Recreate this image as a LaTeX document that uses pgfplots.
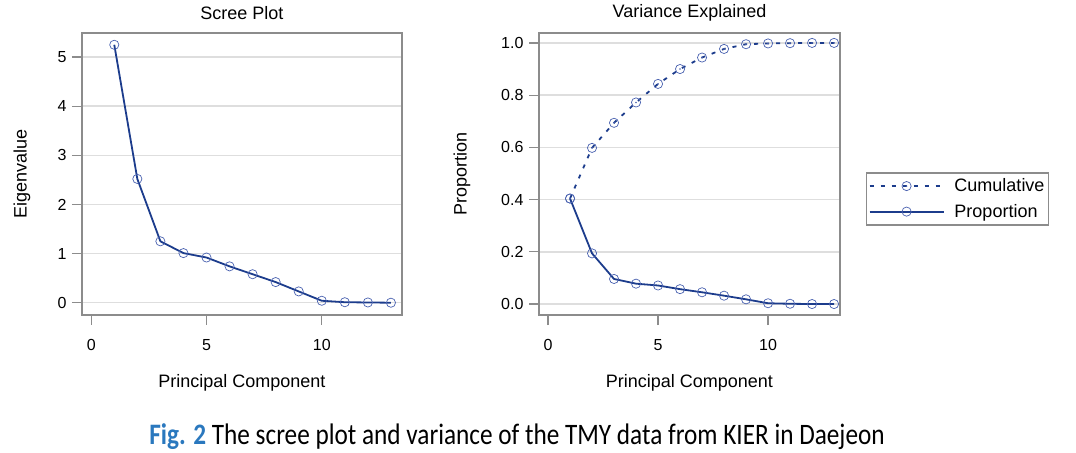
\documentclass[border=0pt]{standalone}
\usepackage{pgfplots}
\pgfplotsset{compat=1.18}
\usepackage{fontspec}
\setmainfont{Liberation Sans}
\newfontfamily\capfont[FakeStretch=0.85]{Carlito}
\definecolor{navy}{HTML}{1C3C8C}
\definecolor{mk}{HTML}{4A62B0}
\definecolor{framec}{HTML}{8C8C8C}
\definecolor{gridc}{HTML}{DEDEDE}
\definecolor{figblue}{HTML}{2A78BE}
\pgfdeclareplotmark{codot}{%
  \pgfpathcircle{\pgfpointorigin}{\pgfplotmarksize}\pgfusepathqstroke
  \pgfpathcircle{\pgfpointorigin}{0.9bp}\pgfusepathqfill}
\pgfplotsset{
  common/.style={
    scale only axis, anchor=south west,
    axis line style={framec, line width=1.6bp},
    tick align=outside, xtick pos=left, ytick pos=left,
    major tick length=10bp,
    every tick/.style={framec, line width=1.2bp},
    ymajorgrids, grid style={gridc, line width=1.4bp},
    tick label style={font=\fontsize{16bp}{19bp}\selectfont, text=black},
    xticklabel style={yshift=-11bp},
    yticklabel style={xshift=-2bp},
    /pgf/number format/assume math mode=true,
    label style={font=\fontsize{18bp}{21bp}\selectfont},
    title style={font=\fontsize{18bp}{21bp}\selectfont, at={(axis description cs:0.5,1.051)}, anchor=center, yshift=0pt},
    xlabel style={at={(axis description cs:0.5,-0.241)}, anchor=center},
    xlabel={Principal Component},
    xtick={0,5,10},
    legend image code/.code={\draw[mark repeat=2,mark phase=2,#1, line width=1.8bp] plot coordinates {(0bp,0bp)(37bp,0bp)(74bp,0bp)};},
  },
  mline/.style={navy, line width=1.8bp, mark=o, mark size=4.6bp,
    mark options={mk, line width=0.7bp, solid}},
}
\pgfplotstableread{
pc eig prop cum
1 5.25 0.404 0.404
2 2.52 0.194 0.598
3 1.25 0.096 0.694
4 1.01 0.078 0.772
5 0.92 0.071 0.843
6 0.74 0.057 0.900
7 0.58 0.045 0.944
8 0.42 0.032 0.977
9 0.23 0.018 0.995
10 0.04 0.003 0.998
11 0.01 0.001 0.999
12 0.005 0.000 1.000
13 0.00 0.000 1.000
}\pca
\begin{document}
\begin{tikzpicture}
\path[use as bounding box] (0,0) rectangle (1076bp,453bp);
\begin{axis}[common, at={(82bp,138bp)}, width=320bp, height=282bp,
  xmin=-0.4, xmax=13.48, ymin=-0.25, ymax=5.49,
  ytick={0,1,2,3,4,5},
  title={Scree Plot}, ylabel={Eigenvalue},
  ylabel style={at={(axis description cs:-0.1875,0.5)}, anchor=center}]
\addplot[mline] table[x=pc, y=eig] {\pca};
\end{axis}
\begin{axis}[common, at={(539bp,138bp)}, width=301bp, height=282bp,
  xmin=-0.41, xmax=13.27, ymin=-0.042, ymax=1.038,
  ytick={0,0.2,0.4,0.6,0.8,1.0},
  yticklabel style={/pgf/number format/.cd, fixed, fixed zerofill, precision=1},
  title={Variance Explained}, ylabel={Proportion},
  ylabel style={at={(axis description cs:-0.256,0.5)}, anchor=center},
  legend style={at={(1.086,0.507)}, anchor=north west, draw=framec, line width=1.6bp,
    font=\fontsize{18bp}{21bp}\selectfont, row sep=7bp, inner xsep=2bp, inner ysep=4bp,
    /tikz/every odd column/.append style={column sep=8bp}},
  legend cell align=left]
\addplot[mline, dash pattern=on 4bp off 7bp, mark=codot] table[x=pc, y=cum] {\pca};
\addlegendentry{Cumulative}
\addplot[mline] table[x=pc, y=prop] {\pca};
\addlegendentry{Proportion}
\end{axis}
\node[anchor=center] at (517bp,16bp) {\capfont\fontsize{29.7bp}{32bp}\selectfont\textcolor{figblue}{\bfseries Fig. 2} The scree plot and variance of the TMY data from KIER in Daejeon};
\end{tikzpicture}
\end{document}
